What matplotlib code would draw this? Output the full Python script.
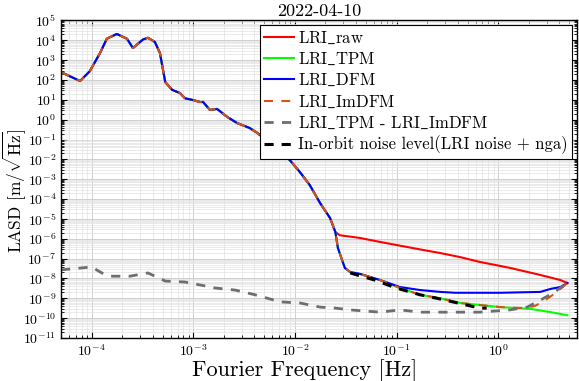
import matplotlib
matplotlib.use('Agg')
import matplotlib.pyplot as plt
import numpy as np
from matplotlib.ticker import LogLocator, NullFormatter

plt.rcParams['font.family'] = ['cmr10', 'DejaVu Serif']
plt.rcParams['mathtext.fontset'] = 'cm'
plt.rcParams['axes.formatter.use_mathtext'] = True

# curva comun (raw = TPM = DFM = ImDFM) hasta ~0.025 Hz
f_comun = [5.0e-5, 7.7e-5, 9.6e-5, 1.21e-4, 1.41e-4, 1.77e-4, 2.23e-4, 2.55e-4, 3.2e-4, 3.58e-4,
           4.19e-4, 4.7e-4, 5.3e-4, 6.2e-4, 7.4e-4, 8.3e-4, 9.96e-4, 1.17e-3, 1.25e-3, 1.46e-3,
           1.71e-3, 1.83e-3, 2.15e-3, 2.7e-3, 3.6e-3, 4.3e-3, 5.6e-3, 7.6e-3, 8.9e-3, 1.12e-2,
           1.40e-2, 1.77e-2, 2.22e-2, 2.5e-2]
lasd_comun = [2.5e2, 89, 2.8e2, 2.3e3, 1.2e4, 2.1e4, 1.2e4, 4.1e3, 1.1e4, 1.35e4,
              8.3e3, 2.3e3, 79, 32, 22, 12, 9.8, 7.8, 7.8, 3.1,
              3.5, 2.7, 1.4, 0.68, 0.38, 0.21, 0.068, 1.7e-2, 9.3e-3, 2.3e-3,
              5.1e-4, 6.3e-5, 1.1e-5, 2.2e-6]

# LRI_raw
f_raw = [2.77e-2, 4.37e-2, 6.9e-2, 0.108, 0.171, 0.27, 0.42, 0.66, 1.31, 2.6, 4.1, 4.8]
lasd_raw = [1.5e-6, 1.1e-6, 6.9e-7, 4.5e-7, 2.9e-7, 1.9e-7, 1.2e-7, 6.8e-8, 3.4e-8, 1.5e-8, 8.3e-9, 5.9e-9]

# LRI_DFM
f_dfm = [2.65e-2, 3.1e-2, 3.5e-2, 4.37e-2, 6.9e-2, 0.108, 0.171, 0.27, 0.38, 1.05, 2.6, 3.3, 4.1, 4.8]
lasd_dfm = [3.4e-7, 3.4e-8, 2.1e-8, 1.7e-8, 8.3e-9, 3.7e-9, 2.6e-9, 2.1e-9, 1.9e-9, 1.9e-9, 2.1e-9, 3.0e-9, 3.7e-9, 5.9e-9]

# LRI_ImDFM
f_imdfm = [2.65e-2, 3.1e-2, 3.5e-2, 4.37e-2, 6.9e-2, 0.108, 0.171, 0.27, 0.42, 0.66, 1.05, 1.83, 2.3, 2.9, 3.7, 4.8]
lasd_imdfm = [3.4e-7, 3.4e-8, 2.1e-8, 1.7e-8, 8.3e-9, 3.3e-9, 1.5e-9, 1.0e-9, 5.8e-10, 4.6e-10, 3.6e-10, 3.2e-10, 4.1e-10, 8.1e-10, 1.9e-9, 5.9e-9]

# LRI_TPM
f_tpm = [2.65e-2, 3.1e-2, 3.5e-2, 4.37e-2, 6.9e-2, 0.108, 0.171, 0.27, 0.42, 0.66, 1.05, 2.1, 3.3, 4.8]
lasd_tpm = [3.4e-7, 3.4e-8, 2.1e-8, 1.7e-8, 8.3e-9, 3.3e-9, 1.5e-9, 1.0e-9, 5.8e-10, 4.6e-10, 3.6e-10, 2.9e-10, 2.0e-10, 1.4e-10]

# LRI_TPM - LRI_ImDFM
f_dif = [5e-5, 1.0e-4, 1.26e-4, 1.51e-4, 2.38e-4, 3.58e-4, 5.3e-4, 8.3e-4, 1.17e-3, 1.64e-3,
         2.58e-3, 4.06e-3, 7.2e-3, 1.12e-2, 1.77e-2, 2.5e-2, 3.5e-2, 6.9e-2, 0.108, 0.171,
         0.66, 1.31, 1.93, 2.6, 3.5, 4.8]
lasd_dif = [2.7e-8, 3.8e-8, 1.9e-8, 1.3e-8, 1.3e-8, 1.9e-8, 7.4e-9, 6.6e-9, 4.7e-9, 3.3e-9,
            2.6e-9, 1.5e-9, 6.6e-10, 5.8e-10, 3.6e-10, 3.2e-10, 2.6e-10, 2.0e-10, 2.6e-10, 2.0e-10,
            2.0e-10, 2.6e-10, 3.6e-10, 8.1e-10, 1.9e-9, 5.9e-9]

# nivel de ruido en orbita
f_ruido = [3.5e-2, 6.1e-2, 9.9e-2, 0.171, 0.27, 0.40, 0.66, 0.77]
lasd_ruido = [1.9e-8, 8.3e-9, 3.3e-9, 1.5e-9, 9.2e-10, 5.8e-10, 3.2e-10, 3.2e-10]

fig = plt.figure(figsize=(5.79, 3.81), dpi=100)
ax = fig.add_axes([0.1054, 0.1129, 0.8903, 0.8333])

ax.loglog(f_comun + f_raw, lasd_comun + lasd_raw, color='#ff0000', lw=1.5, label=r'LRI$\_$raw')
ax.loglog(f_comun + f_tpm, lasd_comun + lasd_tpm, color='#00ff00', lw=1.5, label=r'LRI$\_$TPM')
ax.loglog(f_comun + f_dfm, lasd_comun + lasd_dfm, color='#0000ff', lw=1.5, label=r'LRI$\_$DFM')
ax.loglog(f_comun + f_imdfm, lasd_comun + lasd_imdfm, color='#d95319', lw=1.5,
          dashes=(4.3, 4.0), label=r'LRI$\_$ImDFM')
ax.loglog(f_dif, lasd_dif, color='#6e6e6e', lw=2.0, dashes=(3.3, 3.0),
          label=r'LRI$\_$TPM - LRI$\_$ImDFM')
ax.loglog(f_ruido, lasd_ruido, color='black', lw=2.2, dashes=(3.0, 2.6),
          label='In-orbit noise level(LRI noise + nga)')

ax.set_xlim(5e-5, 5.9)
ax.set_ylim(1e-11, 1e5)
ax.yaxis.set_major_locator(LogLocator(base=10, numticks=30))
ax.yaxis.set_minor_locator(LogLocator(base=10, subs=np.arange(2, 10), numticks=30))
ax.yaxis.set_minor_formatter(NullFormatter())
ax.xaxis.set_major_locator(LogLocator(base=10, numticks=20))
ax.xaxis.set_minor_locator(LogLocator(base=10, subs=np.arange(2, 10), numticks=20))

ax.tick_params(which='both', direction='in', top=True, right=True, labelsize=10)
ax.tick_params(which='major', length=4, width=0.8)
ax.tick_params(which='minor', length=2, width=0.6)
ax.grid(True, which='major', color='#c8c8c8', lw=0.6)
ax.grid(True, which='minor', color='#e2e2e2', lw=0.5)
for s in ax.spines.values():
    s.set_linewidth(1.0)

ax.set_title('2022-04-10', fontsize=13, pad=3)
ax.set_xlabel('Fourier Frequency [Hz]', fontsize=16)
ax.xaxis.set_label_coords(0.473, -0.068)
ax.set_ylabel(r'LASD [m/$\sqrt{\mathrm{Hz}}$]', fontsize=12.5)
ax.yaxis.set_label_coords(-0.064, 0.463)

leg = ax.legend(loc='upper right', fontsize=12, frameon=True, fancybox=False, framealpha=1,
                edgecolor='black', handlelength=1.8, handletextpad=0.2, labelspacing=0.3,
                borderpad=0.25, borderaxespad=0.3)
leg.get_frame().set_linewidth(0.8)

fig.savefig('out.png', dpi=100)
